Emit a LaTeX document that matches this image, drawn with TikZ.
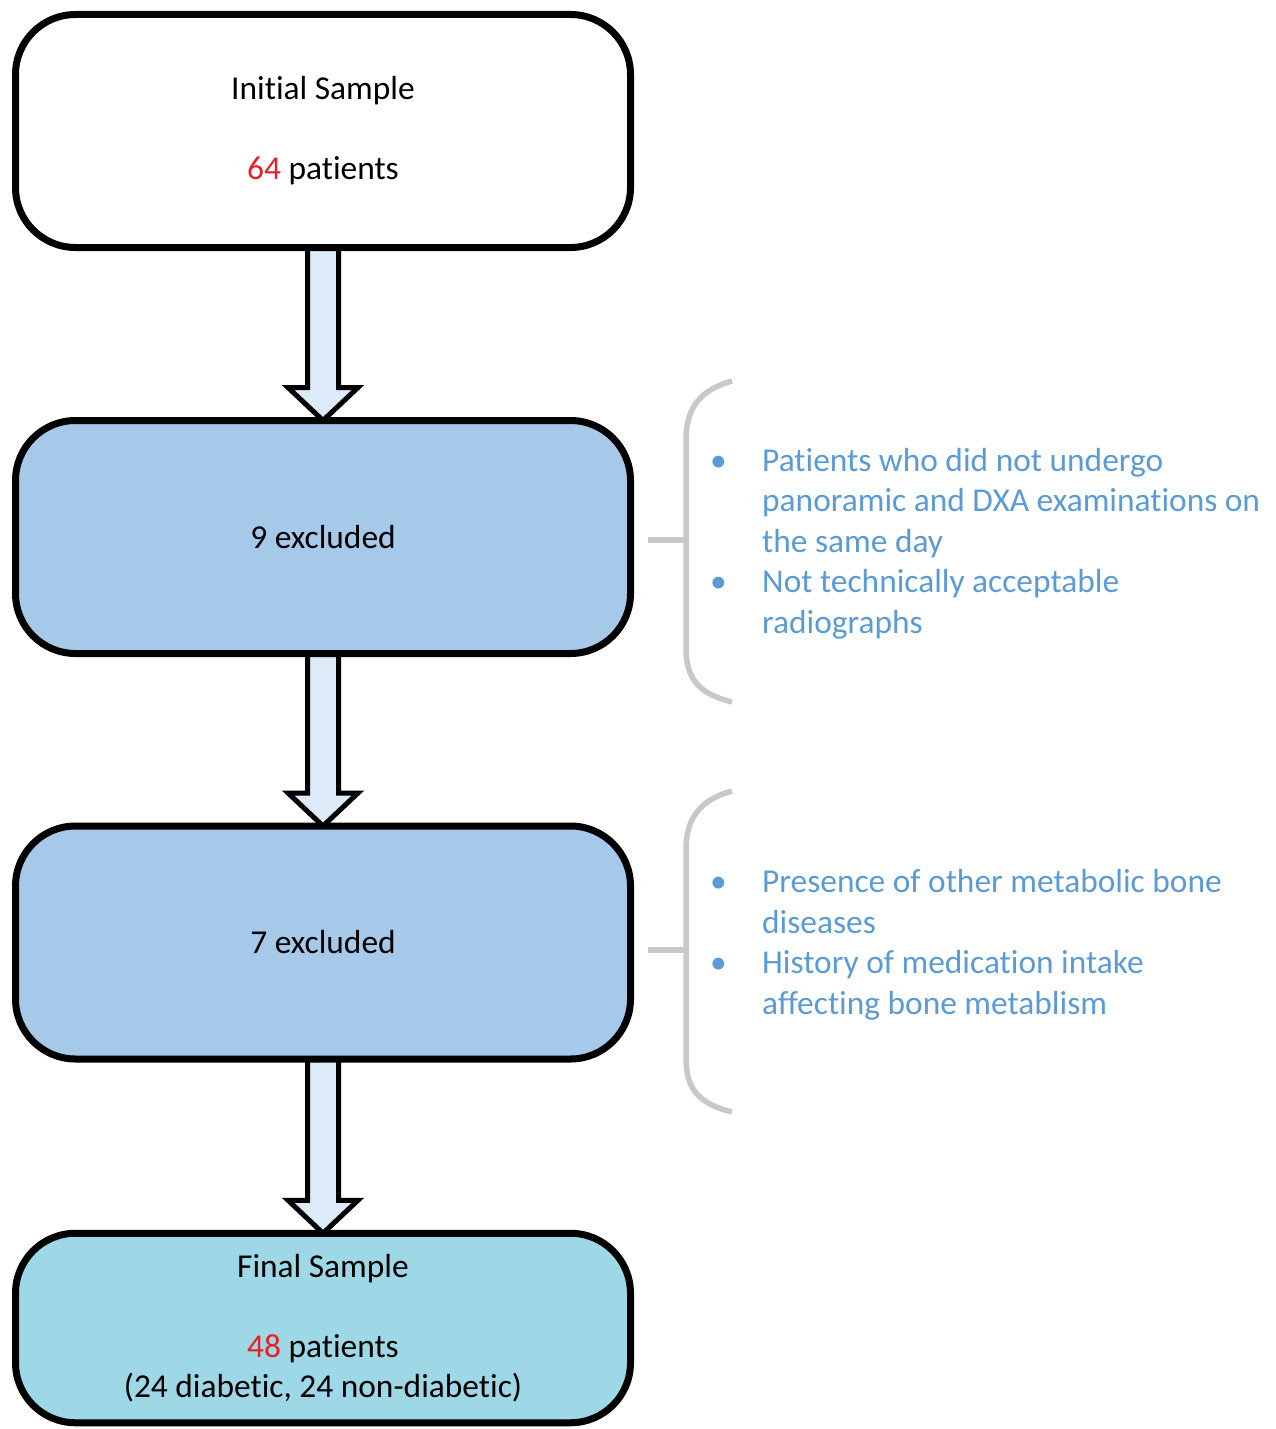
\documentclass[tikz,border=0pt]{standalone}
\usepackage{fontspec}
\setmainfont{Carlito}[Ligatures=NoCommon]
\usetikzlibrary{calc,backgrounds}
\definecolor{numred}{RGB}{232,32,38}
\definecolor{boxblue}{RGB}{166,201,234}
\definecolor{boxcyan}{RGB}{158,216,230}
\definecolor{arrfill}{RGB}{221,234,247}
\definecolor{txtblue}{RGB}{91,155,213}
\definecolor{bracegray}{RGB}{200,200,200}
\newcommand\bulitem{\makebox[52pt][l]{•}}
\newcommand\bulind{\hspace*{52pt}}
\tikzset{
  stagebox/.style={rectangle, rounded corners=60pt, minimum width=615pt, minimum height=233pt,
    line width=7pt, draw=black, inner sep=0pt, outer sep=0pt, align=center,
    font=\fontsize{33.4pt}{40.5pt}\selectfont},
  fatarr/.style={draw=black, fill=arrfill, line width=5pt, line join=miter},
  bracestyle/.style={draw=bracegray, line width=5.5pt},
  notelist/.style={anchor=base west, align=left, inner sep=0pt, text=txtblue,
    font=\fontsize{33.4pt}{40.5pt}\selectfont}
}
\newcommand\fatarrow[2]{%
  \path[fatarr] ($(#1.south)+(-15.5,0)$) -- ($(#2.north)+(-15.5,-33)$) -- ($(#2.north)+(-35,-33)$)
    -- (#2.north) -- ($(#2.north)+(35,-33)$) -- ($(#2.north)+(15.5,-33)$) -- ($(#1.south)+(15.5,0)$) -- cycle;}
\begin{document}
\begin{tikzpicture}[x=1pt,y=-1pt]
\useasboundingbox (0,0) rectangle (1276,1429);

\node[stagebox, fill=white] (b1) at (323,131) {Initial Sample\\[39.5pt]{\color{numred}64} patients};
\node[stagebox, fill=boxblue] (b2) at (323,537) {9 excluded};
\node[stagebox, fill=boxblue] (b3) at (323,942.5) {7 excluded};
\node[stagebox, fill=boxcyan, minimum height=189.5pt] (b4) at (323,1328)
  {Final Sample\\[39.5pt]{\color{numred}48} patients\\(24 diabetic, 24 non-diabetic)};

\begin{scope}[on background layer]
\fatarrow{b1}{b2}
\fatarrow{b2}{b3}
\fatarrow{b3}{b4}
\end{scope}

% braces
\coordinate (t1) at (648,540);
\coordinate (t2) at (648,950);
\draw[bracestyle] (732,381) .. controls (700,390) and (686,408) .. (686,440) -- (686,648)
  .. controls (686,680) and (700,694) .. (732,702);
\draw[bracestyle] (t1) -- (686,540);
\draw[bracestyle] (732,791) .. controls (700,800) and (686,818) .. (686,850) -- (686,1058)
  .. controls (686,1090) and (700,1104) .. (732,1112);
\draw[bracestyle] (t2) -- (686,950);

\node[notelist] (n1) at (710,633) {\bulitem Patients who did not undergo\\
\bulind panoramic and DXA examinations on\\
\bulind the same day\\
\bulitem Not technically acceptable\\
\bulind radiographs};
\node[notelist] (n2) at (710,1014) {\bulitem Presence of other metabolic bone\\
\bulind diseases\\
\bulitem History of medication intake\\
\bulind affecting bone metablism};
\end{tikzpicture}
\end{document}
